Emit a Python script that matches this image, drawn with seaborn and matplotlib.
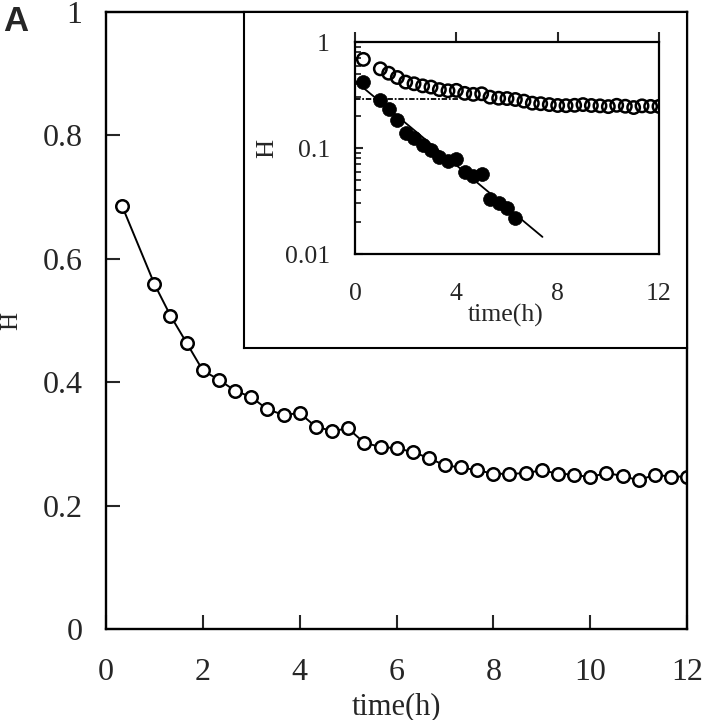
import matplotlib
matplotlib.use("Agg")
import matplotlib.pyplot as plt
import seaborn as sns
from matplotlib.ticker import FixedLocator, FixedFormatter, LogLocator, NullFormatter

sns.set_style("ticks")
plt.rcParams['font.family'] = ['Liberation Serif', 'DejaVu Serif']

# H values (one point every 1/3 h, none at 0.67 h)
time_h = [0.33, 1.0, 1.33, 1.67, 2.0, 2.33, 2.67, 3.0, 3.33, 3.67, 4.0, 4.33,
          4.67, 5.0, 5.33, 5.67, 6.0, 6.33, 6.67, 7.0, 7.33, 7.67, 8.0, 8.33,
          8.67, 9.0, 9.33, 9.67, 10.0, 10.33, 10.67, 11.0, 11.33, 11.67, 12.0]
h_total = [0.686, 0.559, 0.508, 0.463, 0.419, 0.404, 0.386, 0.376, 0.356, 0.347,
           0.350, 0.328, 0.321, 0.325, 0.302, 0.295, 0.293, 0.287, 0.277, 0.265,
           0.262, 0.257, 0.252, 0.251, 0.253, 0.257, 0.252, 0.250, 0.246, 0.253,
           0.248, 0.241, 0.250, 0.247, 0.247]

# fast component (filled circles in the inset)
time_fast = time_h[:18]
h_fast = [0.42, 0.285, 0.235, 0.185, 0.138, 0.124, 0.107, 0.096, 0.083, 0.075,
          0.078, 0.060, 0.054, 0.057, 0.033, 0.030, 0.027, 0.022]

# fitted line and plateau level in the inset
fit_time = [0.0, 7.4]
fit_h = [0.43, 0.0145]
plateau_time = [0.0, 4.1]
plateau_h = [0.29, 0.29]

main_xticks = [0, 2, 4, 6, 8, 10, 12]
main_yticks = [0, 0.2, 0.4, 0.6, 0.8, 1.0]
main_ylabels = ["0", "0.2", "0.4", "0.6", "0.8", "1"]
inset_xticks = [0, 4, 8, 12]
inset_yticks = [0.01, 0.1, 1.0]
inset_ylabels = ["0.01", "0.1", "1"]

FS = 23      # main panel text
FS_I = 18.5  # inset text

fig = plt.figure(figsize=(7.03, 7.2), dpi=100)

# ---- main panel ----
ax = fig.add_axes([0.1508, 0.1264, 0.8265, 0.8569])
sns.lineplot(x=time_h, y=h_total, ax=ax, color="black", lw=1.4, marker="o",
             markersize=9, markerfacecolor="white", markeredgecolor="black",
             markeredgewidth=1.8)
ax.set_xlim(0, 12)
ax.set_ylim(0, 1)
ax.xaxis.set_major_locator(FixedLocator(main_xticks))
ax.yaxis.set_major_locator(FixedLocator(main_yticks))
ax.yaxis.set_major_formatter(FixedFormatter(main_ylabels))
ax.tick_params(axis="both", direction="in", length=10, width=1.5,
               labelsize=FS, top=False, right=False)
ax.tick_params(axis="x", pad=21)
ax.tick_params(axis="y", pad=17)
for s in ax.spines.values():
    s.set_visible(True)
    s.set_linewidth(1.7)
    s.set_color("black")
ax.set_xlabel("time(h)", fontsize=22)
ax.set_ylabel("H", fontsize=18)
ax.xaxis.set_label_coords(0.5, -0.103)
ax.yaxis.set_label_coords(-0.145, 0.5)

fig.text(0.004, 0.993, "A", fontsize=25, fontweight="bold",
         family="Liberation Sans", va="top", ha="left")

# ---- inset frame ----
box = fig.add_axes([0.3471, 0.5167, 0.6302, 0.4667])
box.set_xticks([])
box.set_yticks([])
box.set_facecolor("white")
for s in box.spines.values():
    s.set_visible(True)
    s.set_linewidth(1.5)
    s.set_color("black")

# ---- inset plot ----
axi = fig.add_axes([0.505, 0.6472, 0.4324, 0.2944])
axi.set_yscale("log")
sns.lineplot(x=plateau_time, y=plateau_h, ax=axi, color="black", lw=1.3,
             linestyle=(0, (3, 1, 1, 1)))
sns.lineplot(x=fit_time, y=fit_h, ax=axi, color="black", lw=1.3)
sns.scatterplot(x=time_h, y=h_total, ax=axi, marker="o", s=80,
                facecolor="none", edgecolor="black", linewidth=1.8)
sns.scatterplot(x=time_fast, y=h_fast, ax=axi, marker="o", s=100,
                color="black", edgecolor="black", linewidth=0.5)
axi.set_xlim(0, 12)
axi.set_ylim(0.01, 1)
axi.xaxis.set_major_locator(FixedLocator(inset_xticks))
axi.yaxis.set_major_locator(FixedLocator(inset_yticks))
axi.yaxis.set_major_formatter(FixedFormatter(inset_ylabels))
axi.yaxis.set_minor_locator(LogLocator(base=10, subs=range(2, 10)))
axi.yaxis.set_minor_formatter(NullFormatter())
axi.tick_params(axis="x", direction="out", length=7, width=1.5, top=True,
                bottom=False, labeltop=False, labelbottom=True, pad=14,
                labelsize=FS_I)
axi.tick_params(axis="y", which="major", direction="in", length=6, width=1.5,
                right=False, pad=18, labelsize=FS_I)
axi.tick_params(axis="y", which="minor", direction="in", length=4.5, width=1.3,
                right=False)
for s in axi.spines.values():
    s.set_visible(True)
    s.set_linewidth(1.6)
    s.set_color("black")
axi.set_xlabel("time(h)", fontsize=FS_I)
axi.set_ylabel("H", fontsize=19)
axi.xaxis.set_label_coords(0.497, -0.235)
axi.yaxis.set_label_coords(-0.252, 0.5)

fig.savefig("out.png", dpi=100)
